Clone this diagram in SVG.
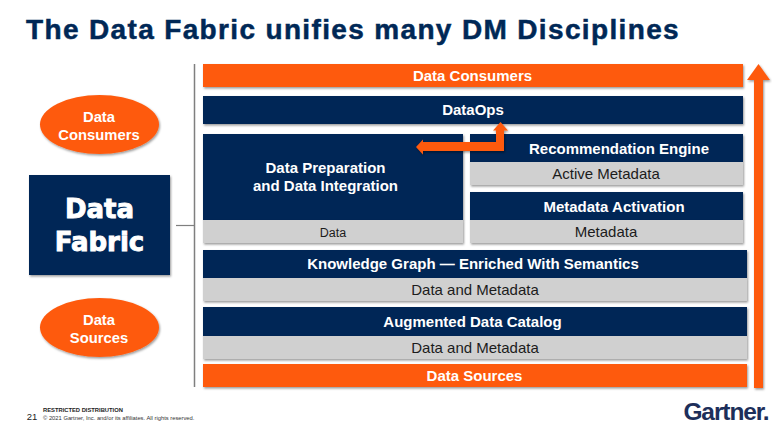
<svg xmlns="http://www.w3.org/2000/svg" width="780" height="430" viewBox="0 0 780 430">
<defs>
<filter id="sh" x="-5%" y="-20%" width="110%" height="140%"><feDropShadow dx="1" dy="1.5" stdDeviation="1" flood-color="#000" flood-opacity="0.4"/></filter>
</defs>
<style>
text{font-family:"Liberation Sans",Arial,sans-serif;text-anchor:middle}
.n{fill:#002856;filter:url(#sh)}
.o{fill:#fe5a0c;filter:url(#sh)}
.g{fill:#d0d0d0;filter:url(#sh)}
.w{fill:#fff;font-weight:700;font-size:15px}
.k{fill:#1c1c1c;font-size:15px}
.e{fill:#fff;font-weight:700;font-size:14.8px}
.f{fill:#fff;stroke:#fff;stroke-width:.9px;font-family:"DejaVu Sans",sans-serif;font-weight:700;font-size:26px}
</style>
<rect width="780" height="430" fill="#fff"/>
<text x="26" y="39" style="text-anchor:start;font-weight:700;font-size:28px;fill:#002856;stroke:#002856;stroke-width:.5px;letter-spacing:1.350px">The Data Fabric unifies many DM Disciplines</text>

<g id="connectors" fill="none">
<path d="M194.500 64V387" stroke="#7f7f7f" stroke-width="1.500"/>
<path d="M176 225.500H194" stroke="#7f7f7f" stroke-width="1.200"/>
</g>

<g id="ellipse-consumers"><ellipse cx="99.500" cy="124.500" rx="59.500" ry="29.500" class="o"/><text class="e" x="99" y="122">Data</text><text class="e" x="99" y="140">Consumers</text></g>
<g id="ellipse-sources"><ellipse cx="99.500" cy="327.500" rx="59.500" ry="29.500" class="o"/><text class="e" x="99" y="325">Data</text><text class="e" x="99" y="343">Sources</text></g>
<g id="data-fabric"><rect x="29" y="175" width="141" height="100" class="n"/><text class="f" x="99.500" y="218">Data</text><text class="f" x="99.500" y="251">Fabric</text></g>

<g id="data-consumers"><rect x="203" y="64" width="540" height="23" class="o"/><text class="w" x="472.500" y="81">Data Consumers</text></g>
<g id="dataops"><rect x="203" y="96" width="540" height="28" class="n"/><text class="w" x="473" y="115">DataOps</text></g>
<g id="data-prep"><rect x="203" y="134" width="260" height="86" class="n"/><text class="w" x="325.500" y="173">Data Preparation</text><text class="w" x="325.500" y="191">and Data Integration</text></g>
<g id="data"><rect x="203" y="220" width="260" height="23" class="g"/><text class="k" x="333" y="237" style="font-size:12.500px">Data</text></g>
<g id="recommendation"><rect x="470" y="134" width="273" height="28" class="n"/><text class="w" x="619" y="153.500">Recommendation Engine</text></g>
<g id="active-metadata"><rect x="470" y="162" width="273" height="23" class="g"/><text class="k" x="606" y="179">Active Metadata</text></g>
<g id="metadata-activation"><rect x="470" y="192" width="273" height="28" class="n"/><text class="w" x="614" y="212">Metadata Activation</text></g>
<g id="metadata"><rect x="470" y="220" width="273" height="23" class="g"/><text class="k" x="606" y="237">Metadata</text></g>
<g id="knowledge-graph"><rect x="203" y="250" width="544" height="28" class="n"/><text class="w" x="473" y="269">Knowledge Graph — Enriched With Semantics</text></g>
<g id="data-metadata-1"><rect x="203" y="278" width="544" height="23" class="g"/><text class="k" x="475" y="295">Data and Metadata</text></g>
<g id="catalog"><rect x="203" y="307" width="544" height="29" class="n"/><text class="w" x="472.500" y="327">Augmented Data Catalog</text></g>
<g id="data-metadata-2"><rect x="203" y="336" width="544" height="23" class="g"/><text class="k" x="475" y="353">Data and Metadata</text></g>
<g id="data-sources"><rect x="203" y="364" width="544" height="23" class="o"/><text class="w" x="474.500" y="381">Data Sources</text></g>

<g id="arrows">
<path class="o" d="M416 147L423 139.500V142H496V130.500H493L500.500 122L508 130.500H504V151H423V154.500Z"/>
<path class="o" d="M758.500 64L770 80H763V388H754V80H747Z"/>
</g>

<text x="32" y="420" style="font-size:9.500px;fill:#222">21</text>
<text x="43" y="412" style="text-anchor:start;font-size:5.800px;font-weight:700;fill:#222">RESTRICTED DISTRIBUTION</text>
<text x="43" y="420" style="text-anchor:start;font-size:5.800px;fill:#333">© 2021 Gartner, Inc. and/or its affiliates. All rights reserved.</text>
<text x="726" y="420" style="font-size:24.500px;font-weight:700;fill:#1d2f5a;letter-spacing:-1.100px">Gartner.</text>
</svg>
